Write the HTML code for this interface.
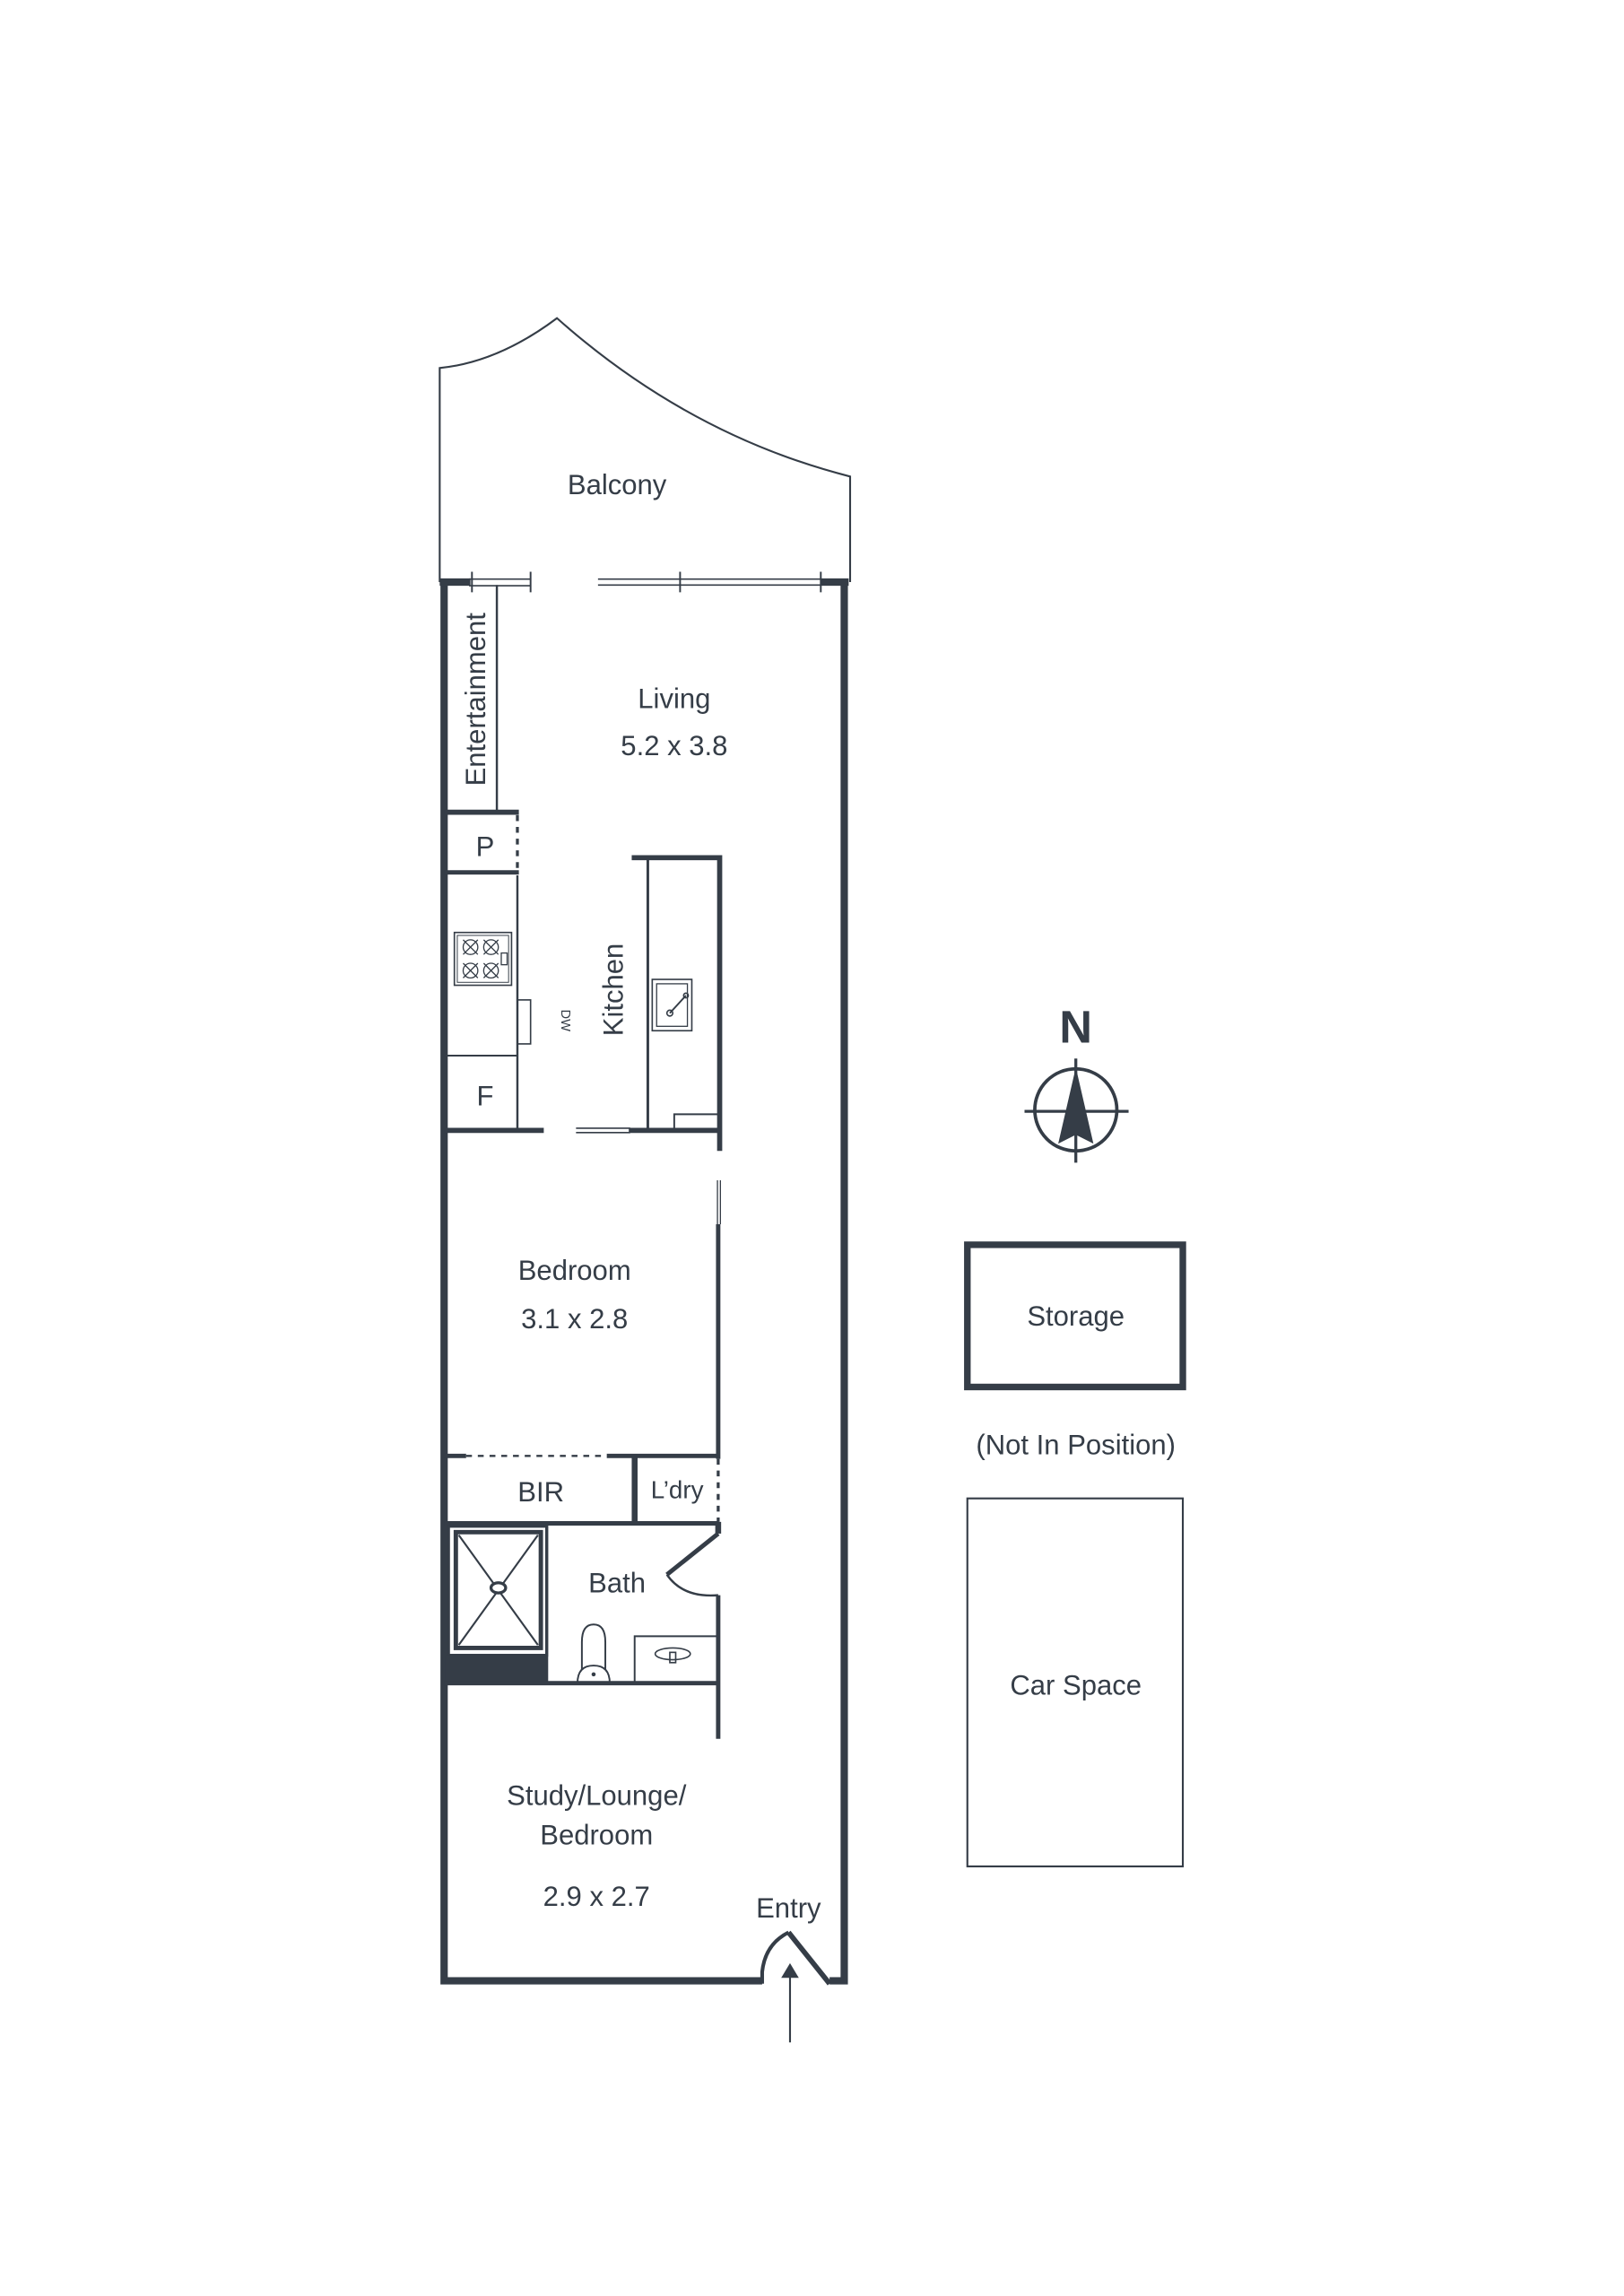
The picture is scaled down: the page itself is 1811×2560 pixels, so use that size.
<!DOCTYPE html>
<html><head><meta charset="utf-8"><style>
html,body{margin:0;padding:0;background:#fff;}
svg{display:block;}
text{font-family:"Liberation Sans",sans-serif;fill:#353d47;}
</style></head><body>
<svg width="1811" height="2560" viewBox="0 0 1108 1566" preserveAspectRatio="none" xmlns="http://www.w3.org/2000/svg">
<g stroke="#353d47" fill="none" stroke-linecap="butt">
<path d="M300,397 L300,251 Q340,247 380,217 Q470,297 580,325 L580,397" stroke-width="1.3"/>
<path d="M303,395 L303,1351 L520,1351" stroke-width="5"/>
<path d="M566,1351 L576,1351 L576,395" stroke-width="5"/>
<path d="M300,397 L321,397" stroke-width="5"/>
<path d="M560,397 L579,397" stroke-width="5"/>
<path d="M320,395 L362,395 M320,399.5 L362,399.5" stroke-width="1"/>
<path d="M322,390 L322,404 M362,390 L362,404" stroke-width="1.2"/>
<path d="M408,395 L560,395 M408,399 L560,399" stroke-width="1"/>
<path d="M464,390 L464,404 M560,390 L560,404" stroke-width="1.2"/>
<path d="M339,399 L339,553" stroke-width="1.5"/>
<path d="M303,554 L354,554" stroke-width="3.5"/>
<path d="M353,556 L353,595" stroke-width="2" stroke-dasharray="4,4"/>
<path d="M303,595 L354,595" stroke-width="3"/>
<path d="M353,597 L353,770" stroke-width="1.5"/>
<path d="M303,720 L353,720" stroke-width="1.2"/>
<rect x="310" y="636" width="39" height="36" stroke-width="1"/>
<rect x="312" y="638" width="35" height="32" stroke-width="0.6"/>
<g stroke-width="0.8">
<circle cx="321" cy="646" r="5"/><circle cx="335" cy="646" r="5"/>
<circle cx="321" cy="662" r="5"/><circle cx="335" cy="662" r="5"/>
<path d="M316,641 L326,651 M326,641 L316,651 M330,641 L340,651 M340,641 L330,651 M316,657 L326,667 M326,657 L316,667 M330,657 L340,667 M340,657 L330,667"/>
<rect x="342" y="650" width="4" height="8"/>
</g>
<rect x="353" y="682" width="9" height="30" stroke-width="1"/>
<path d="M303,771 L371,771" stroke-width="3.5"/>
<path d="M393,769.5 L430,769.5 M393,772.5 L430,772.5" stroke-width="1"/>
<path d="M429,771 L490,771" stroke-width="3.5"/>
<path d="M431,585 L491,585 L491,785" stroke-width="3.5"/>
<path d="M442,586 L442,770" stroke-width="1.8"/>
<rect x="445" y="668" width="27" height="35" stroke-width="1"/>
<rect x="448" y="671" width="21" height="29" stroke-width="0.8"/>
<path d="M457,691 L468,679" stroke-width="1.2"/>
<circle cx="457" cy="691" r="2" stroke-width="1"/><circle cx="468" cy="679" r="1.6" stroke-width="1"/>
<path d="M460,770 L460,760 L490,760" stroke-width="1.2"/>
<path d="M489.5,805 L489.5,835 M491.5,805 L491.5,835" stroke-width="0.8"/>
<path d="M490,835 L490,995" stroke-width="3"/>
<path d="M303,993 L318,993 M414,993 L490,993" stroke-width="3"/>
<path d="M318,993 L414,993" stroke-width="1.5" stroke-dasharray="4,4"/>
<path d="M433,993 L433,1039" stroke-width="4"/>
<path d="M490,995 L490,1038" stroke-width="2" stroke-dasharray="4,4"/>
<path d="M303,1039 L490,1039" stroke-width="3"/>
<rect x="306" y="1041" width="67" height="88" stroke-width="2"/>
<rect x="311" y="1045" width="58" height="79" stroke-width="3"/>
<path d="M313,1047 L367,1122 M367,1047 L313,1122" stroke-width="1.3"/>
<ellipse cx="340" cy="1083" rx="5" ry="3.5" stroke-width="2" fill="#fff"/>
<rect x="304" y="1129" width="69" height="19" fill="#353d47" stroke="none"/>
<path d="M373,1039 L373,1148" stroke-width="2"/>
<path d="M490,1038 L490,1046" stroke-width="4"/>
<path d="M490,1046 L455,1074" stroke-width="3"/>
<path d="M455,1074 Q466,1090 490,1088" stroke-width="1.5"/>
<path d="M490,1088 L490,1186" stroke-width="3"/>
<path d="M397,1145 L397,1120 Q397,1108 405,1108 Q413,1108 413,1120 L413,1145" stroke-width="1.2" fill="#fff"/>
<path d="M394,1148 Q394,1136 405,1136 Q416,1136 416,1148" stroke-width="1.2" fill="#fff"/>
<circle cx="405" cy="1142" r="0.9" fill="#353d47"/>
<path d="M433,1147 L433,1116 L490,1116" stroke-width="1.2"/>
<ellipse cx="459" cy="1128" rx="12" ry="4" stroke-width="1"/>
<rect x="457" y="1127" width="4" height="7" stroke-width="1"/>
<path d="M303,1148 L490,1148" stroke-width="3"/>
<path d="M520,1353 L520,1345 Q522,1326 538,1318" stroke-width="2.5"/>
<path d="M538,1318 L566,1353" stroke-width="3.5"/>
<path d="M539,1393 L539,1346" stroke-width="1.3"/>
<path d="M533,1349 L539,1339 L545,1349 Z" fill="#353d47" stroke="none"/>
<circle cx="734" cy="757" r="28" stroke-width="2.3"/>
<path d="M699,758 L770,758 M734,722 L734,793" stroke-width="2"/>
<path d="M734,728 L722,780 L734,774 L746,780 Z" fill="#353d47" stroke="none"/>
<rect x="660" y="849" width="147" height="97" stroke-width="4.5"/>
<rect x="660" y="1022" width="147" height="251" stroke-width="1.3"/>
</g>
<g font-size="19" text-anchor="middle">
<text x="421" y="337">Balcony</text>
<text x="460" y="483">Living</text>
<text x="460" y="515">5.2 x 3.8</text>
<text transform="translate(331,477) rotate(-90)" font-size="19">Entertainment</text>
<text x="331" y="584">P</text>
<text x="331" y="754">F</text>
<text transform="translate(383,696) rotate(90)" font-size="9">DW</text>
<text transform="translate(425,675) rotate(-90)">Kitchen</text>
<text x="392" y="873">Bedroom</text>
<text x="392" y="906">3.1 x 2.8</text>
<text x="369" y="1024">BIR</text>
<text x="462" y="1022" font-size="17">L’dry</text>
<text x="421" y="1086">Bath</text>
<text x="407" y="1231">Study/Lounge/</text>
<text x="407" y="1258">Bedroom</text>
<text x="407" y="1300">2.9 x 2.7</text>
<text x="538" y="1308">Entry</text>
<text x="734" y="711" font-size="31" font-weight="bold">N</text>
<text x="734" y="904">Storage</text>
<text x="734" y="992">(Not In Position)</text>
<text x="734" y="1156">Car Space</text>
</g>
</svg>
</body></html>
